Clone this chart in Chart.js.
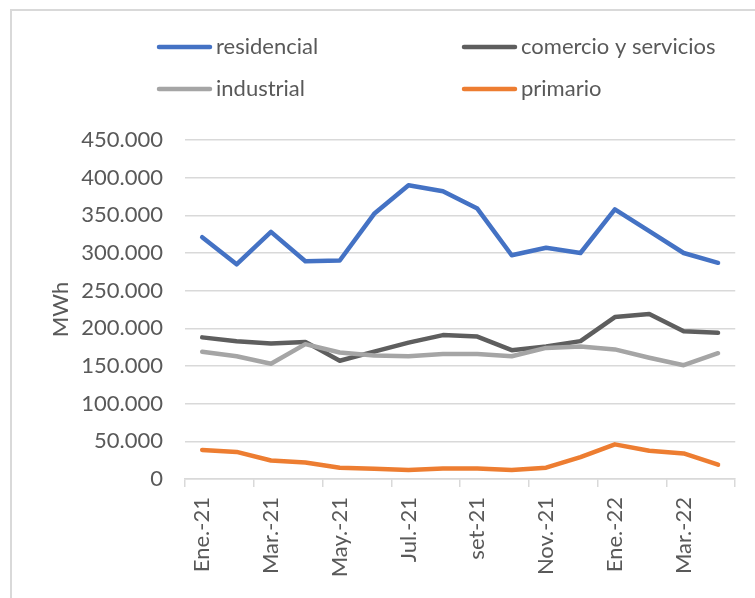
<!DOCTYPE html>
<html>
<head>
<meta charset="utf-8">
<script src="https://cdn.jsdelivr.net/npm/chart.js@4/dist/chart.umd.min.js"></script>
<style>
  html, body { margin: 0; padding: 0; background: #fff; overflow: hidden; }
  #frame { position: absolute; left: 10px; top: 9px; width: 760px; height: 600px; border: 2px solid #d9d9d9; }
  #myChart { position: absolute; left: 0; top: 0; }
</style>
</head>
<body>
<div id="frame"></div>
<canvas id="myChart" width="755" height="598"></canvas>
<script>
// month labels along the x-axis
var months = ['Ene.-21','Feb.-21','Mar.-21','Abr.-21','May.-21','Jun.-21','Jul.-21','Ago.-21','set-21','Oct.-21','Nov.-21','Dic.-21','Ene.-22','Feb.-22','Mar.-22','Abr.-22'];
// MWh per sector
var residencial = [321000,285000,328000,289000,290000,352000,390000,382000,359000,297000,307000,300000,358000,329000,300000,287000];
var comercio = [188000,183000,180000,182000,157000,169000,181000,191000,189000,171000,176000,183000,215000,219000,196000,194000];
var industrial = [169000,163000,153000,179000,168000,164000,163000,166000,166000,163000,174000,176000,172000,161000,151000,167000];
var primario = [38500,36000,24500,22000,15000,13500,12000,14000,14000,12000,15000,29000,46000,37500,34000,19000];

var textColor = '#595959';
var gridColor = '#d9d9d9';
Chart.defaults.font.family = 'Lato';
Chart.defaults.font.size = 22;
Chart.defaults.color = textColor;

// 2x2 legend like the spreadsheet one
var gridLegend = {
  id: 'gridLegend',
  afterDraw: function(chart) {
    var ctx = chart.ctx;
    var cols = [157, 462];
    var rows = [47, 89];
    ctx.save();
    ctx.font = '22px Lato';
    ctx.textBaseline = 'middle';
    ctx.textAlign = 'left';
    chart.data.datasets.forEach(function(ds, i) {
      var x = cols[i % 2];
      var y = rows[Math.floor(i / 2)];
      ctx.strokeStyle = ds.borderColor;
      ctx.lineWidth = 4.5;
      ctx.lineCap = 'round';
      ctx.beginPath();
      ctx.moveTo(x + 2, y);
      ctx.lineTo(x + 53, y);
      ctx.stroke();
      ctx.fillStyle = textColor;
      ctx.fillText(ds.label, x + 59, y);
    });
    ctx.restore();
  }
};

var ctx = document.getElementById('myChart');
var myChart = new Chart(ctx, {
  type: 'line',
  data: {
    labels: months,
    datasets: [
      { data: residencial, label: 'residencial', borderColor: '#4472C4', order: 4 },
      { data: comercio, label: 'comercio y servicios', borderColor: '#5E5E5E', order: 3 },
      { data: industrial, label: 'industrial', borderColor: '#A5A5A5', order: 2 },
      { data: primario, label: 'primario', borderColor: '#ED7D31', order: 1 }
    ]
  },
  options: {
    responsive: false,
    animation: false,
    layout: { padding: { top: 140, right: 18, bottom: 0, left: 0 } },
    elements: {
      line: { borderWidth: 4.5, tension: 0, fill: false, borderCapStyle: 'round', borderJoinStyle: 'round' },
      point: { radius: 0, hoverRadius: 0 }
    },
    plugins: {
      legend: { display: false },
      tooltip: { enabled: false }
    },
    scales: {
      x: {
        offset: true,
        afterFit: function(scale) { scale.height = 119; },
        grid: {
          offset: true,
          drawOnChartArea: false,
          tickLength: 8,
          lineWidth: 1.5,
          color: function(c) {
            return (c.index === undefined || c.index % 2 === 0) ? gridColor : 'rgba(0,0,0,0)';
          }
        },
        border: { color: gridColor, width: 1.5 },
        ticks: {
          autoSkip: false,
          maxRotation: 90,
          minRotation: 90,
          padding: 10,
          callback: function(v, i) { return i % 2 === 0 ? this.getLabelForValue(v) : ''; }
        }
      },
      y: {
        min: 0,
        max: 450000,
        afterFit: function(scale) { scale.width = 185; },
        grid: { color: gridColor, lineWidth: 1.5, drawTicks: false },
        border: { display: false },
        ticks: {
          stepSize: 50000,
          padding: 22,
          callback: function(v) { return v.toString().replace(/\B(?=(\d{3})+(?!\d))/g, '.'); }
        },
        title: { display: true, text: 'MWh', padding: { top: 48, bottom: 0 } }
      }
    }
  },
  plugins: [gridLegend]
});
</script>
</body>
</html>
